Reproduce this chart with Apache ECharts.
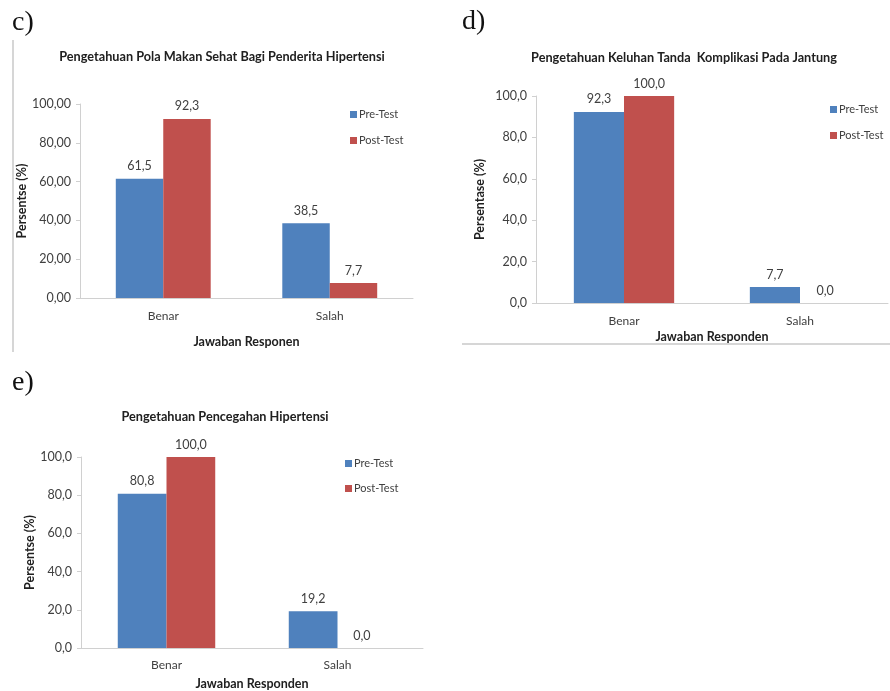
<!DOCTYPE html>
<html>
<head>
<meta charset="utf-8">
<script src="https://cdn.jsdelivr.net/npm/echarts@6/dist/echarts.min.js"></script>
<style>
  html, body { margin: 0; padding: 0; background: #fff; }
  #chart { width: 890px; height: 691px; }
</style>
</head>
<body>
<div id="chart"></div>
<script>
// Answer categories shared by all three panels
const categories = ['Benar', 'Salah'];
const seriesNames = ['Pre-Test', 'Post-Test'];

// c) Healthy diet knowledge
const dietPre = [61.5, 38.5];
const dietPost = [92.3, 7.7];
// d) Heart complication signs knowledge
const heartPre = [92.3, 7.7];
const heartPost = [100.0, 0.0];
// e) Hypertension prevention knowledge
const preventPre = [80.8, 19.2];
const preventPost = [100.0, 0.0];

const yTicks = { min: 0, max: 100, interval: 20 };

const FONT = 'Lato';
const BLUE = '#4F81BD';
const RED = '#C0504D';
const AXIS = '#D0D0D0';
const TXT = '#404040';

const comma = (v, d) => Number(v).toFixed(d).replace('.', ',');

const panels = [
  { grid: { left: 80, top: 104, width: 333, height: 194 }, decimals: 2,
    yName: 'Persentse (%)', xName: 'Jawaban Responen', yNameGap: 45, xNameGap: 37, xLabelMargin: 12,
    pre: dietPre, post: dietPost, legend: { left: 345, top: 104, gap: 15 } },
  { grid: { left: 536, top: 96, width: 352, height: 207 }, decimals: 1,
    yName: 'Persentase (%)', xName: 'Jawaban Responden', yNameGap: 50, xNameGap: 27, xLabelMargin: 12,
    pre: heartPre, post: heartPost, legend: { left: 825, top: 99, gap: 15 } },
  { grid: { left: 81, top: 457, width: 342, height: 192 }, decimals: 1,
    yName: 'Persentse (%)', xName: 'Jawaban Responden', yNameGap: 45, xNameGap: 29, xLabelMargin: 11,
    pre: preventPre, post: preventPost, legend: { left: 340, top: 453, gap: 14 } }
];

const grid = [], xAxis = [], yAxis = [], series = [], legend = [];
panels.forEach((p, i) => {
  grid.push(Object.assign({ containLabel: false }, p.grid));
  xAxis.push({
    type: 'category', gridIndex: i, data: categories,
    axisLine: { lineStyle: { color: AXIS, width: 1 } },
    axisTick: { show: false },
    axisLabel: { color: TXT, fontFamily: FONT, fontSize: 12, margin: p.xLabelMargin },
    name: p.xName, nameLocation: 'middle', nameGap: p.xNameGap,
    nameTextStyle: { color: '#202020', fontFamily: FONT, fontWeight: 'bold', fontSize: 12.5 }
  });
  yAxis.push({
    type: 'value', gridIndex: i, min: yTicks.min, max: yTicks.max, interval: yTicks.interval,
    splitLine: { show: false },
    axisLine: { show: true, lineStyle: { color: AXIS, width: 1 } },
    axisTick: { show: true, length: 4, lineStyle: { color: AXIS } },
    axisLabel: { color: TXT, fontFamily: FONT, fontSize: 12.5, margin: 9,
      formatter: v => comma(v, p.decimals) },
    name: p.yName, nameLocation: 'middle', nameGap: p.yNameGap, nameRotate: 90,
    nameTextStyle: { color: '#202020', fontFamily: FONT, fontWeight: 'bold', fontSize: 12.5 }
  });
  [p.pre, p.post].forEach((vals, k) => {
    series.push({
      type: 'bar', name: seriesNames[k], xAxisIndex: i, yAxisIndex: i,
      data: vals, barGap: '0%', barCategoryGap: '43%',
      itemStyle: { color: k === 0 ? BLUE : RED },
      label: { show: true, position: 'top', distance: 6, color: TXT, fontFamily: FONT, fontSize: 12.5,
        formatter: o => comma(o.value, 1) },
      animation: false
    });
  });
  legend.push({
    orient: 'vertical', left: p.legend.left, top: p.legend.top,
    data: seriesNames, icon: 'rect', itemWidth: 7, itemHeight: 7, itemGap: p.legend.gap,
    textStyle: { color: TXT, fontFamily: FONT, fontSize: 11, padding: [0, 0, 0, -3] },
    selectedMode: false
  });
});

const titleStyle = { fill: '#202020', font: 'bold 12.7px ' + FONT, textAlign: 'center', textVerticalAlign: 'middle' };
const panelStyle = { fill: '#111', font: '28px "Liberation Serif"' };

const graphic = [
  { type: 'text', left: 12, top: 9, style: Object.assign({ text: 'c)' }, panelStyle) },
  { type: 'text', left: 462, top: 8, style: Object.assign({ text: 'd)' }, panelStyle) },
  { type: 'text', left: 12, top: 369, style: Object.assign({ text: 'e)' }, panelStyle) },
  { type: 'text', x: 222, y: 57, style: Object.assign({ text: 'Pengetahuan Pola Makan Sehat Bagi Penderita Hipertensi' }, titleStyle) },
  { type: 'text', x: 684, y: 58, style: Object.assign({ text: 'Pengetahuan Keluhan Tanda  Komplikasi Pada Jantung' }, titleStyle) },
  { type: 'text', x: 225, y: 417, style: Object.assign({ text: 'Pengetahuan Pencegahan Hipertensi' }, titleStyle) },
  // frame edges around panels c) and d)
  { type: 'line', shape: { x1: 13, y1: 40, x2: 13, y2: 352 }, style: { stroke: '#C8C8C8', lineWidth: 1.5 } },
  { type: 'line', shape: { x1: 462, y1: 344, x2: 890, y2: 344 }, style: { stroke: '#C8C8C8', lineWidth: 1.5 } }
];

const chart = echarts.init(document.getElementById('chart'), null, { renderer: 'canvas' });
chart.setOption({
  animation: false,
  grid, xAxis, yAxis, series, legend, graphic
});
</script>
</body>
</html>
